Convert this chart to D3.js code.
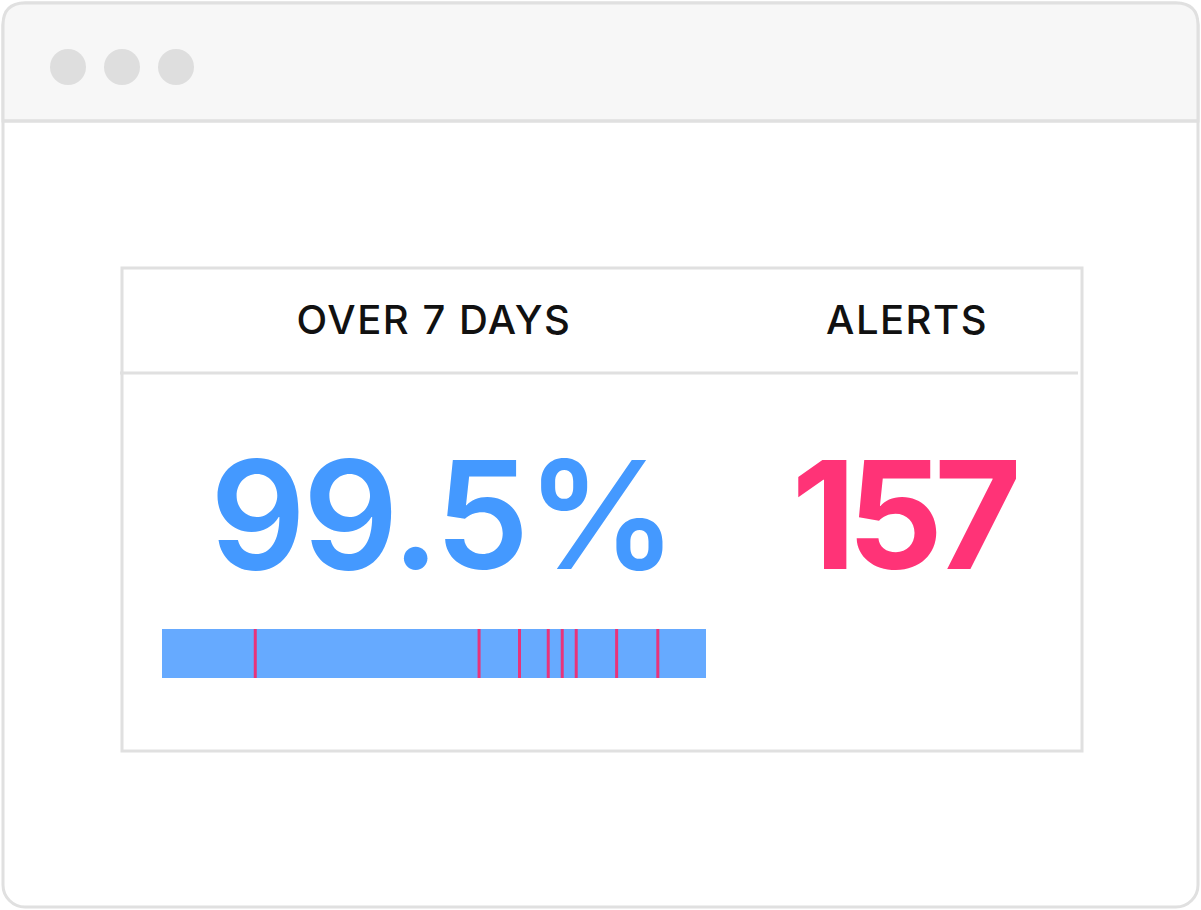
<!DOCTYPE html>
<html><head><meta charset="utf-8">
<script src="https://cdn.jsdelivr.net/npm/d3@7"></script>
<style>body{margin:0;background:#fff}</style></head>
<body><svg id="chart" width="1201" height="910"></svg>
<script>
const headers = ["OVER 7 DAYS", "ALERTS"];
const uptimeLabel = "99.5%";
const alertCount = "157";
const days = 7;
const alertTimes = [1.20, 4.08, 4.60, 4.97, 5.15, 5.33, 5.85, 6.38]; // days into window

const svg = d3.select("#chart");

// browser frame
svg.append("rect").attr("x",3).attr("y",3).attr("width",1195).attr("height",904)
  .attr("rx",22).attr("fill","#fff").attr("stroke","#e0e0e0").attr("stroke-width",3);
svg.append("path")
  .attr("d","M3,121 L3,25 Q3,3 25,3 L1176,3 Q1198,3 1198,25 L1198,121 Z")
  .attr("fill","#f7f7f7").attr("stroke","#e0e0e0").attr("stroke-width",3);
svg.append("line").attr("x1",3).attr("x2",1198).attr("y1",121).attr("y2",121)
  .attr("stroke","#e0e0e0").attr("stroke-width",3);
svg.selectAll("circle.dot").data([68,122,176]).join("circle")
  .attr("cx",d=>d).attr("cy",67).attr("r",18).attr("fill","#dedede");

// card
svg.append("rect").attr("x",122).attr("y",268).attr("width",960).attr("height",483)
  .attr("fill","none").attr("stroke","#e0e0e0").attr("stroke-width",3);
svg.append("line").attr("x1",120).attr("x2",1078).attr("y1",373).attr("y2",373)
  .attr("stroke","#e0e0e0").attr("stroke-width",3);

const cols = [434, 907];
svg.selectAll("text.head").data(headers).join("text")
  .attr("x",(d,i)=>cols[i]).attr("y",334).attr("text-anchor","middle")
  .attr("font-family","Inter, sans-serif").attr("font-weight",500).attr("font-size",40)
  .attr("letter-spacing",1.5).attr("fill","#111").text(d=>d);

svg.append("text").attr("x",442).attr("y",569).attr("text-anchor","middle")
  .attr("font-family","Inter, sans-serif").attr("font-weight",600).attr("font-size",150)
  .attr("letter-spacing",-3).attr("fill","#4499ff").text(uptimeLabel);
svg.append("text").attr("x",902).attr("y",569).attr("text-anchor","middle")
  .attr("font-family","Inter, sans-serif").attr("font-weight",700).attr("font-size",150)
  .attr("letter-spacing",-9).attr("fill","#ff3377").text(alertCount);

// timeline bar
const x = d3.scaleLinear().domain([0, days]).range([162, 706]);
svg.append("rect").attr("x",x(0)).attr("y",629).attr("width",x(days)-x(0)).attr("height",49)
  .attr("fill","#66aaff");
svg.selectAll("line.alert").data(alertTimes).join("line")
  .attr("x1",d=>x(d)).attr("x2",d=>x(d)).attr("y1",629).attr("y2",678)
  .attr("stroke","#e8337a").attr("stroke-width",3);
</script></body></html>
